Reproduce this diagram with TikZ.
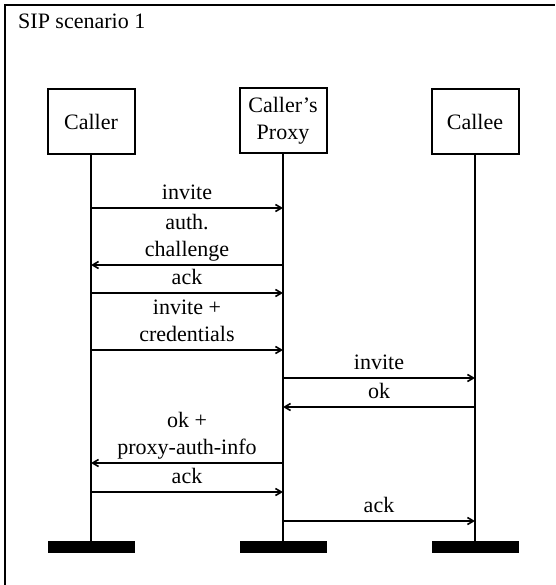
\documentclass[tikz,border=0pt]{standalone}
\usepackage{fontspec}
\setmainfont{Liberation Serif}
\usetikzlibrary{arrows.meta,positioning}
\begin{document}
\begin{tikzpicture}[x=1pt, y=-1pt, >={Straight Barb[length=6pt,width=7pt]},
  font=\fontsize{22}{27}\selectfont,
  actor/.style={draw, line width=2pt, minimum width=87pt, minimum height=65pt, align=center, inner sep=0pt},
  foot/.style={fill=black, minimum width=87pt, minimum height=12pt, inner sep=0pt},
  life/.style={line width=2.6pt},
  msg/.style={->, line width=1.6pt},
  lbl/.style={above, align=center, inner sep=2pt, text depth=6pt}]
\useasboundingbox (0,0) rectangle (555,585);
% frame, open to the right and bottom
\draw[line width=2pt] (5,585) -- (5,5) -- (555,5);
\node[anchor=base west, inner sep=0pt] (title) at (18,29) {SIP scenario 1};
% actors
\node[actor] (cr) at (91,122)  {Caller};
\node[actor] (px) at (283,121) {Caller's\\Proxy};
\node[actor] (ce) at (475,122) {Callee};
\node[foot] (crf) at (91,547)  {};
\node[foot] (pxf) at (283,547) {};
\node[foot] (cef) at (475,547) {};
\draw[life] (cr) -- (crf); \draw[life] (px) -- (pxf); \draw[life] (ce) -- (cef);
% messages
\draw[msg] (cr |- 0,208) -- node[lbl] {invite} (px |- 0,208);
\draw[msg] (px |- 0,265) -- node[lbl] {auth.\\challenge} (cr |- 0,265);
\draw[msg] (cr |- 0,293) -- node[lbl] {ack} (px |- 0,293);
\draw[msg] (cr |- 0,350) -- node[lbl] {invite +\\credentials} (px |- 0,350);
\draw[msg] (px |- 0,378) -- node[lbl] {invite} (ce |- 0,378);
\draw[msg] (ce |- 0,407) -- node[lbl] {ok} (px |- 0,407);
\draw[msg] (px |- 0,463) -- node[lbl] {ok +\\proxy-auth-info} (cr |- 0,463);
\draw[msg] (cr |- 0,492) -- node[lbl] {ack} (px |- 0,492);
\draw[msg] (px |- 0,521) -- node[lbl] {ack} (ce |- 0,521);
\end{tikzpicture}
\end{document}
